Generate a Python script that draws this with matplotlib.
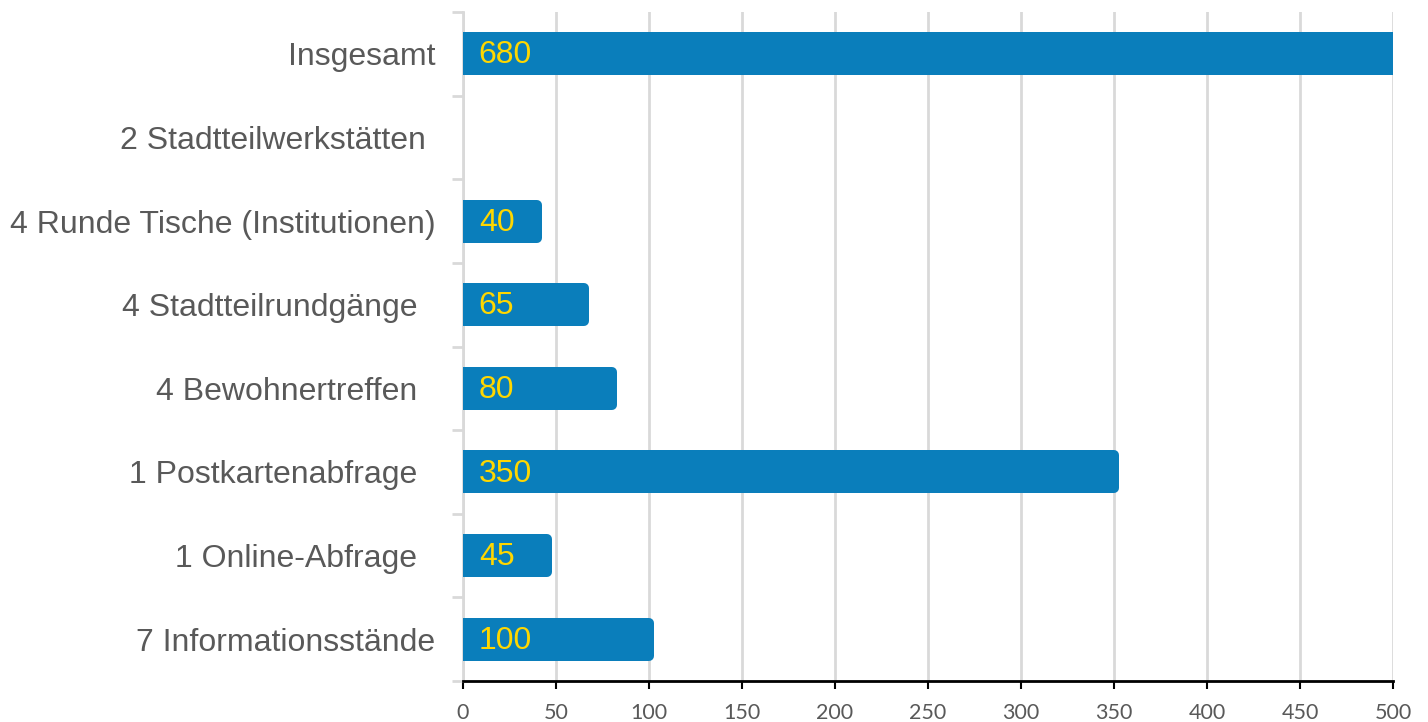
import numpy as np
import matplotlib
matplotlib.use("Agg")
import matplotlib.pyplot as plt
from matplotlib.ticker import MultipleLocator, FixedLocator

# Daten (von oben nach unten)
kategorien = ["Insgesamt", "2 Stadtteilwerkstätten ", "4 Runde Tische (Institutionen)",
              "4 Stadtteilrundgänge  ", "4 Bewohnertreffen  ", "1 Postkartenabfrage  ",
              "1 Online-Abfrage  ", "7 Informationsstände"]
werte = [680, np.nan, 40, 65, 80, 350, 45, 100]

BLAU = "#0a7ebb"
GELB = "#ffd700"
GRAU_TEXT = "#595959"
GRAU_LINIE = "#d9d9d9"

fig = plt.figure(figsize=(14.28, 7.22), dpi=100)
ax = fig.add_axes([463 / 1428, 1 - 681 / 722, 930 / 1428, 669 / 722])

y = np.arange(len(kategorien))
mit_wert = [i for i, w in enumerate(werte) if not np.isnan(w)]
lw_pt = 10 * 72 / 100  # Kantenbreite fuer runde Ecken
ax.barh([y[i] for i in mit_wert], [werte[i] for i in mit_wert], height=0.395,
        color=BLAU, edgecolor=BLAU, linewidth=lw_pt, joinstyle="round", zorder=3)

for i in mit_wert:
    ax.text(8.5, y[i] + 0.02, "{:d}".format(int(werte[i])), color=GELB, fontsize=23,
            family="Liberation Sans", va="center", ha="left", zorder=4)

ax.set_xlim(0, 500)
ax.set_ylim(len(kategorien) - 0.5, -0.5)

ax.xaxis.set_major_locator(MultipleLocator(50))
ax.grid(axis="x", color=GRAU_LINIE, linewidth=2, zorder=0)
ax.set_axisbelow(True)

ax.set_yticks(y)
ax.set_yticklabels(kategorien, fontsize=23, family="Liberation Sans", color=GRAU_TEXT)
ax.yaxis.set_minor_locator(FixedLocator(np.arange(len(kategorien) + 1) - 0.5))
ax.tick_params(axis="y", which="major", length=0, pad=20)
ax.tick_params(axis="y", which="minor", length=8, width=2, color=GRAU_LINIE)

ax.tick_params(axis="x", which="major", length=6, width=1.5, color="black",
               labelsize=15.5, labelcolor=GRAU_TEXT, pad=10)
for lbl in ax.get_xticklabels():
    lbl.set_family("Lato")

for s in ["top", "right"]:
    ax.spines[s].set_visible(False)
ax.spines["left"].set_color(GRAU_LINIE)
ax.spines["left"].set_linewidth(2)
ax.spines["bottom"].set_color("black")
ax.spines["bottom"].set_linewidth(2)
ax.spines["bottom"].set_zorder(5)

fig.savefig("out.png", dpi=100)
